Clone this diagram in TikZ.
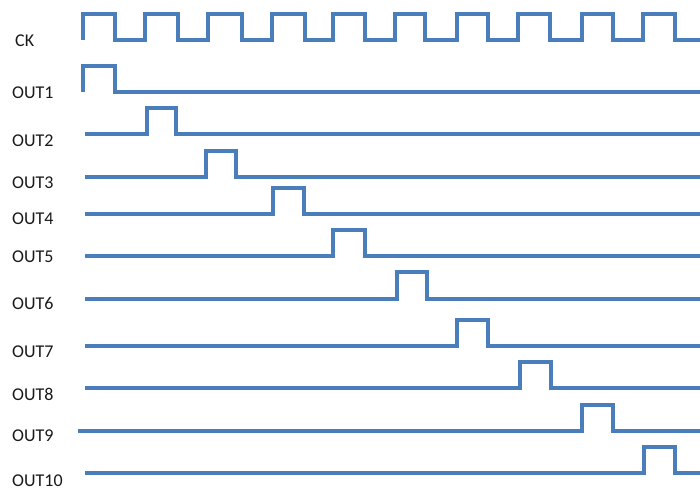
\documentclass[tikz,border=0pt]{standalone}
\usepackage{fontspec}
\setmainfont{Carlito}
\definecolor{wavecol}{RGB}{74,126,187}
\begin{document}
\begin{tikzpicture}[x=1pt,y=-1pt,
  sig/.style={draw=wavecol, line width=4pt, line join=miter},
  lbl/.style={font=\fontsize{18}{18}\selectfont, anchor=west, inner sep=0pt, text=black!90}]
\useasboundingbox (0,0) rectangle (700,491);
% clock
\draw[sig] (83,40) -- (83,14) -- (115,14) -- (115,40)
  -- (145,40) -- (145,14) -- (178,14) -- (178,40)
  -- (208,40) -- (208,14) -- (242,14) -- (242,40)
  -- (272,40) -- (272,14) -- (305,14) -- (305,40)
  -- (333,40) -- (333,14) -- (365,14) -- (365,40)
  -- (395,40) -- (395,14) -- (425,14) -- (425,40)
  -- (457,40) -- (457,14) -- (488,14) -- (488,40)
  -- (518,40) -- (518,14) -- (550,14) -- (550,40)
  -- (582,40) -- (582,14) -- (613,14) -- (613,40)
  -- (643,40) -- (643,14) -- (675,14) -- (675,40) -- (700,40);
\node[lbl] (ck) at (15,41) {CK};
% outputs: index / start x / low y / high y / rise / fall / label y
\foreach \n/\sx/\lo/\hi/\r/\f/\ly in {
  1/83/92/66/83/115/93,
  2/85/134/108/147/176/141,
  3/85/177/151/206/236/183,
  4/85/214/188/273/304/219,
  5/85/256/230/333/365/257,
  6/85/299/272/397/427/303,
  7/85/346/320/457/488/352,
  8/85/388/362/520/551/394,
  9/78/431/405/582/613/436,
  10/85/473/447/644/675/481}{
  \draw[sig] (\sx,\lo) -- (\r,\lo) -- (\r,\hi) -- (\f,\hi) -- (\f,\lo) -- (700,\lo);
  \node[lbl] (out\n) at (12,\ly) {OUT\n};
}
\end{tikzpicture}
\end{document}
